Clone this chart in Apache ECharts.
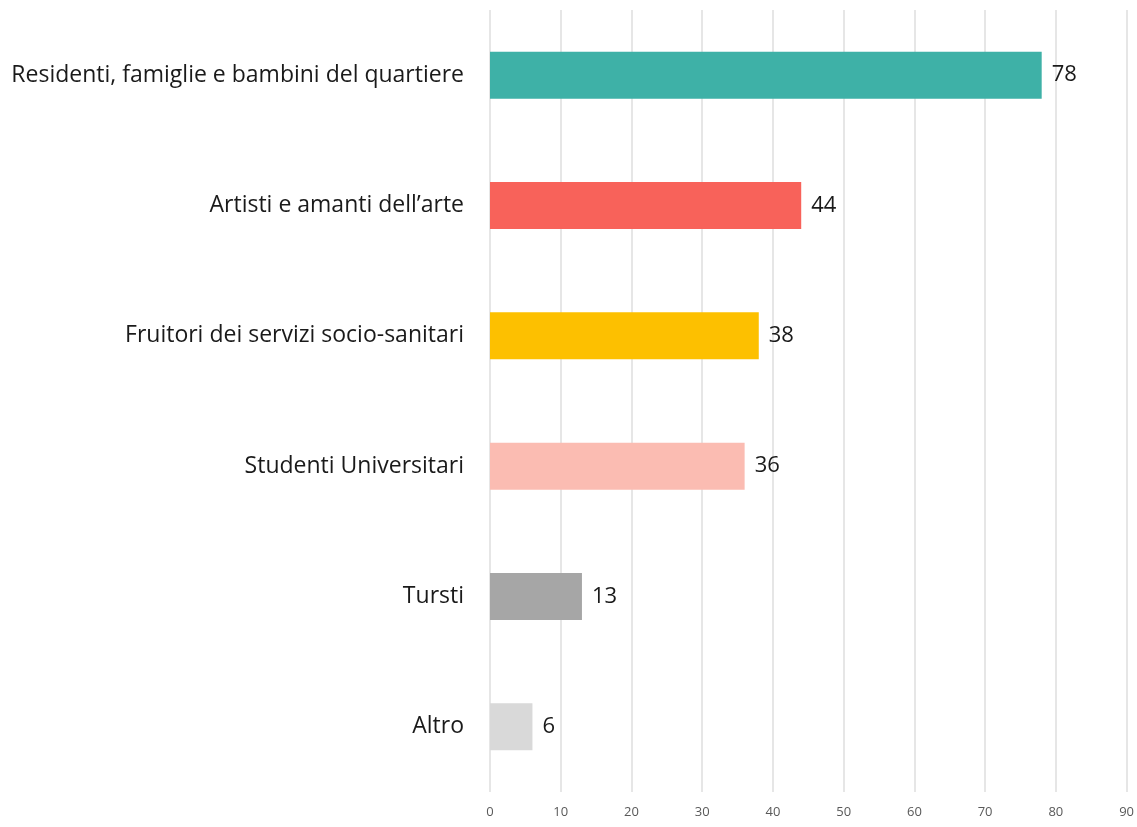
<!DOCTYPE html>
<html>
<head>
<meta charset="utf-8">
<script src="https://cdn.jsdelivr.net/npm/echarts@6/dist/echarts.min.js"></script>
<style>
  html, body { margin: 0; padding: 0; background: #fff; }
  #chart { width: 1137px; height: 827px; }
</style>
</head>
<body>
<div id="chart"></div>
<script>
const categories = [
  'Residenti, famiglie e bambini del quartiere',
  'Artisti e amanti dell\u2019arte',
  'Fruitori dei servizi socio-sanitari',
  'Studenti Universitari',
  'Tursti',
  'Altro'
]
const values = [78, 44, 38, 36, 13, 6]
const barColors = ['#3eb1a7', '#f8625a', '#fdc000', '#fbbcb2', '#a6a6a6', '#d9d9d9']

const chart = echarts.init(document.getElementById('chart'))
chart.setOption({
  animation: false,
  grid: {
    top: 10,
    left: 490,
    right: 9,
    bottom: 35,
    containLabel: false
  },
  xAxis: {
    type: 'value',
    min: 0,
    max: 90,
    interval: 10,
    axisLine: { show: false },
    axisTick: { show: false },
    axisLabel: {
      color: '#595959',
      fontFamily: 'Open Sans',
      fontSize: 13,
      margin: 14
    },
    splitLine: {
      lineStyle: { color: '#e6e6e6', width: 2 }
    }
  },
  yAxis: {
    type: 'category',
    inverse: true,
    data: categories,
    axisLine: { show: false },
    axisTick: { show: false },
    axisLabel: {
      color: '#1a1a1a',
      fontFamily: 'Open Sans',
      fontSize: 23,
      margin: 26
    }
  },
  series: [{
    type: 'bar',
    barWidth: 47,
    data: values.map((v, i) => ({ value: v, itemStyle: { color: barColors[i] } })),
    label: {
      show: true,
      position: 'right',
      distance: 10,
      color: '#1a1a1a',
      fontFamily: 'Open Sans',
      fontSize: 22
    }
  }]
})
</script>
</body>
</html>
